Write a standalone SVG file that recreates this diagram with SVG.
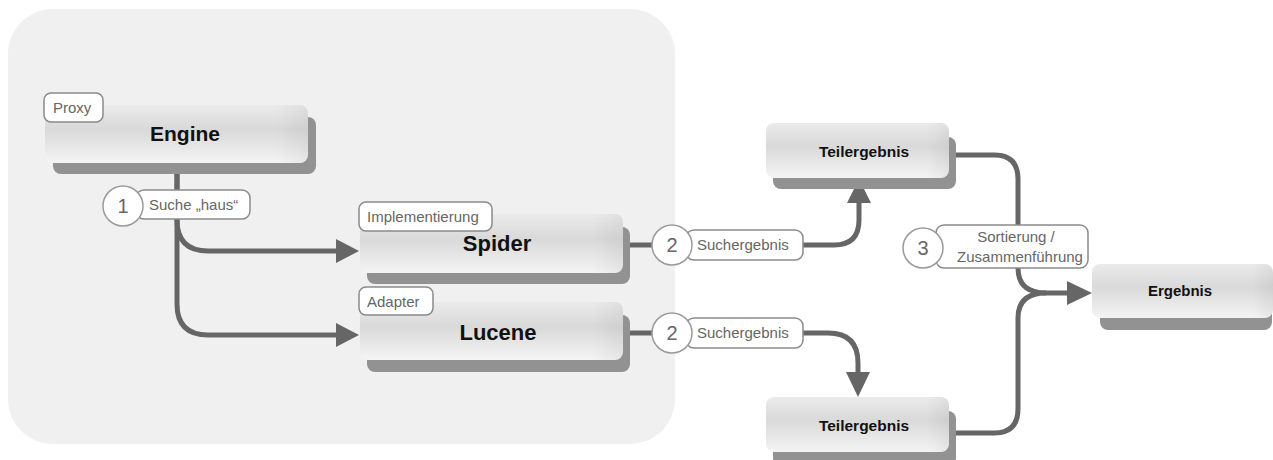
<svg xmlns="http://www.w3.org/2000/svg" width="1273" height="460" viewBox="0 0 1273 460">
<defs>
<linearGradient id="ng" x1="0" y1="0" x2="0" y2="1">
<stop offset="0" stop-color="#ebebeb"/>
<stop offset="0.42" stop-color="#d9d9d9"/>
<stop offset="1" stop-color="#f4f4f4"/>
</linearGradient>
<linearGradient id="nh" x1="0" y1="0" x2="1" y2="0">
<stop offset="0.88" stop-color="#000" stop-opacity="0"/>
<stop offset="1" stop-color="#000" stop-opacity="0.05"/>
</linearGradient>
</defs>
<style>
.sh{fill:#929292}
.nd{fill:url(#ng)}
.ov{fill:url(#nh)}
.nt{font-family:"Liberation Sans",Arial,sans-serif;font-weight:bold;fill:#111;text-anchor:middle}
.tag{fill:#fff;stroke:#8a8a8a;stroke-width:1.5}
.tt{font-family:"Liberation Sans",Arial,sans-serif;font-size:15px;fill:#666}
.cc{fill:#fff;stroke:#9a9a9a;stroke-width:1.5}
.ct{font-family:"Liberation Sans",Arial,sans-serif;font-size:20px;fill:#666;text-anchor:middle}
.ln{fill:none;stroke:#666;stroke-width:5}
.ah{fill:#666}
</style>
<rect x="8" y="9" width="667" height="435" rx="45" fill="#f0f0f0"/>
<g id="connectors">
<path class="ln" d="M177,163 V220 Q177,251 208,251 H340"/>
<polygon class="ah" points="359,251 336,239 336,263"/>
<path class="ln" d="M177,163 V304 Q177,335 208,335 H340"/>
<polygon class="ah" points="359,335 336,323 336,347"/>
<path class="ln" d="M623,245 H834 Q859,245 859,220 V200"/>
<polygon class="ah" points="859,179 847,203 871,203"/>
<path class="ln" d="M623,333 H828 Q858,333 858,363 V375"/>
<polygon class="ah" points="858,397 846,372 870,372"/>
<path class="ln" d="M949,155 H994 Q1018,155 1018,179 V268 Q1018,293 1046,293 H1072"/>
<path class="ln" d="M949,433 H994 Q1018,433 1018,409 V318 Q1018,293 1046,293"/>
<polygon class="ah" points="1092,293 1067,281 1067,305"/>
</g>
<g id="engine">
<rect class="sh" x="53" y="117" width="263" height="57" rx="8"/>
<rect class="nd" x="45" y="105" width="263" height="58" rx="8"/>
<rect class="ov" x="45" y="105" width="263" height="58" rx="8"/>
<text class="nt" x="185" y="141" font-size="21">Engine</text>
<rect class="tag" x="44" y="93" width="59" height="29" rx="7"/>
<text class="tt" x="53" y="113">Proxy</text>
</g>
<g id="spider">
<rect class="sh" x="367" y="227" width="263" height="57" rx="8"/>
<rect class="nd" x="360" y="214" width="263" height="59" rx="8"/>
<rect class="ov" x="360" y="214" width="263" height="59" rx="8"/>
<text class="nt" x="497" y="251" font-size="22">Spider</text>
<rect class="tag" x="359" y="202" width="133" height="29" rx="7"/>
<text class="tt" x="367" y="222">Implementierung</text>
</g>
<g id="lucene">
<rect class="sh" x="367" y="315" width="263" height="57" rx="8"/>
<rect class="nd" x="360" y="302" width="263" height="58" rx="8"/>
<rect class="ov" x="360" y="302" width="263" height="58" rx="8"/>
<text class="nt" x="498" y="340" font-size="22">Lucene</text>
<rect class="tag" x="359" y="287" width="74" height="28" rx="7"/>
<text class="tt" x="367" y="307">Adapter</text>
</g>
<g id="teil1">
<rect class="sh" x="773" y="137" width="183" height="52" rx="8"/>
<rect class="nd" x="766" y="123" width="183" height="55" rx="8"/>
<rect class="ov" x="766" y="123" width="183" height="55" rx="8"/>
<text class="nt" x="864" y="157" font-size="15.5">Teilergebnis</text>
</g>
<g id="teil2">
<rect class="sh" x="773" y="411" width="183" height="55" rx="8"/>
<rect class="nd" x="766" y="397" width="183" height="55" rx="8"/>
<rect class="ov" x="766" y="397" width="183" height="55" rx="8"/>
<text class="nt" x="864" y="431" font-size="15.5">Teilergebnis</text>
</g>
<g id="ergebnis">
<rect class="sh" x="1100" y="278" width="172" height="52" rx="8"/>
<rect class="nd" x="1092" y="264" width="181" height="54" rx="8"/>
<rect class="ov" x="1092" y="264" width="181" height="54" rx="8"/>
<text class="nt" x="1180" y="296" font-size="15">Ergebnis</text>
</g>
<g id="label1">
<rect class="tag" x="136" y="190" width="114" height="29" rx="8"/>
<text class="tt" x="149" y="210">Suche „haus“</text>
<circle class="cc" cx="123" cy="206" r="20"/>
<text class="ct" x="123" y="213">1</text>
</g>
<g id="label2a">
<rect class="tag" x="686" y="230" width="117" height="30" rx="8"/>
<text class="tt" x="697" y="250">Suchergebnis</text>
<circle class="cc" cx="672" cy="245" r="20"/>
<text class="ct" x="672" y="252">2</text>
</g>
<g id="label2b">
<rect class="tag" x="686" y="318" width="117" height="30" rx="8"/>
<text class="tt" x="697" y="338">Suchergebnis</text>
<circle class="cc" cx="672" cy="333" r="20"/>
<text class="ct" x="672" y="340">2</text>
</g>
<g id="label3">
<rect class="tag" x="936" y="225" width="152" height="43" rx="8"/>
<text class="tt" x="1016" y="242" text-anchor="middle">Sortierung /</text>
<text class="tt" x="1020" y="262" text-anchor="middle">Zusammenführung</text>
<circle class="cc" cx="923" cy="248" r="20"/>
<text class="ct" x="923" y="255">3</text>
</g>
</svg>
